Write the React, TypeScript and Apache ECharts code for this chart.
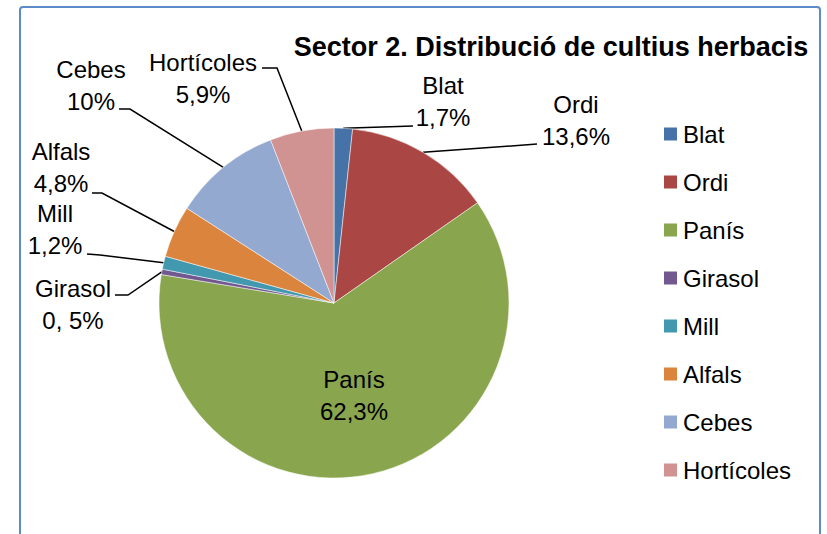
import React, { useEffect, useRef } from "react";
import * as echarts from "echarts";

const categories = ["Blat", "Ordi", "Panís", "Girasol", "Mill", "Alfals", "Cebes", "Hortícoles"];
const shares = [1.7, 13.6, 62.3, 0.5, 1.2, 4.8, 10, 5.9];
const shareLabels = ["1,7%", "13,6%", "62,3%", "0, 5%", "1,2%", "4,8%", "10%", "5,9%"];
const colors = ["#4572A7", "#AA4643", "#89A54E", "#71588F", "#4198AF", "#DB843D", "#93A9CF", "#D19392"];
const titleText = "Sector 2. Distribució de cultius herbacis";

// label block centres (annotation placement)
const labelCenters: number[][] = [
  [443, 101],
  [576, 120],
  [354, 395],
  [73, 304],
  [55, 229],
  [61, 167],
  [91, 85],
  [203, 78],
];
// leader line bends/ends (annotation placement), null = no leader
const leaderBends: (number[][] | null)[] = [
  [[413, 126]],
  [[537, 144]],
  null,
  [[128, 295], [115, 295]],
  [[100, 255], [87, 254]],
  [[102, 193], [92, 193]],
  [[130, 109], [119, 109]],
  [[277, 68], [262, 68]],
];

const FONT = '"Liberation Sans", Arial, sans-serif';

export default function App() {
  const ref = useRef<HTMLDivElement>(null);
  useEffect(() => {
    if (!ref.current) return;
    const chart = echarts.init(ref.current, null, { renderer: "svg" });
    const data = categories.map((name, i) => {
      const item: any = { name, value: shares[i], itemStyle: { color: colors[i] } };
      if (leaderBends[i] === null) {
        item.label = { position: "inside" };
        item.labelLine = { show: false };
      }
      return item;
    });
    chart.setOption({
      animation: false,
      backgroundColor: "#ffffff",
      textStyle: { fontFamily: FONT },
      graphic: [
        {
          type: "rect",
          z: -10,
          shape: { x: 20, y: 7, width: 800, height: 560, r: 3 },
          style: { fill: "none", stroke: "#5B8BC9", lineWidth: 2 },
        },
        {
          type: "text",
          x: 551,
          y: 47,
          style: {
            text: titleText,
            font: `bold 27px ${FONT}`,
            fill: "#000",
            textAlign: "center",
            textVerticalAlign: "middle",
          },
        },
      ],
      legend: {
        orient: "vertical",
        left: 662,
        top: 122,
        padding: 0,
        itemWidth: 15,
        itemHeight: 15,
        itemGap: 24,
        icon: "rect",
        data: categories,
        textStyle: { fontSize: 24, lineHeight: 24, color: "#000", fontFamily: FONT },
      },
      series: [
        {
          type: "pie",
          center: [334, 303],
          radius: 175,
          startAngle: 90,
          clockwise: true,
          avoidLabelOverlap: false,
          itemStyle: { borderColor: "#ffffff", borderWidth: 0.5 },
          emphasis: { disabled: true },
          label: {
            show: true,
            position: "outside",
            color: "#000",
            fontSize: 24,
            lineHeight: 32,
            fontFamily: FONT,
            formatter: (p: any) => `${p.name}\n${shareLabels[p.dataIndex]}`,
          },
          labelLine: { show: true, lineStyle: { color: "#000", width: 1.5 } },
          labelLayout: (params: any) => {
            const i = params.dataIndex;
            const c = labelCenters[i];
            const res: any = { x: c[0], y: c[1], align: "center", verticalAlign: "middle" };
            const bends = leaderBends[i];
            if (bends && params.labelLinePoints) {
              res.labelLinePoints = [params.labelLinePoints[0], ...bends];
            }
            return res;
          },
          data,
        },
      ],
    });
    return () => chart.dispose();
  }, []);
  return (
    <div
      ref={ref}
      style={{ position: "fixed", left: 0, top: 0, width: 827, height: 534, background: "#fff" }}
    />
  );
}
